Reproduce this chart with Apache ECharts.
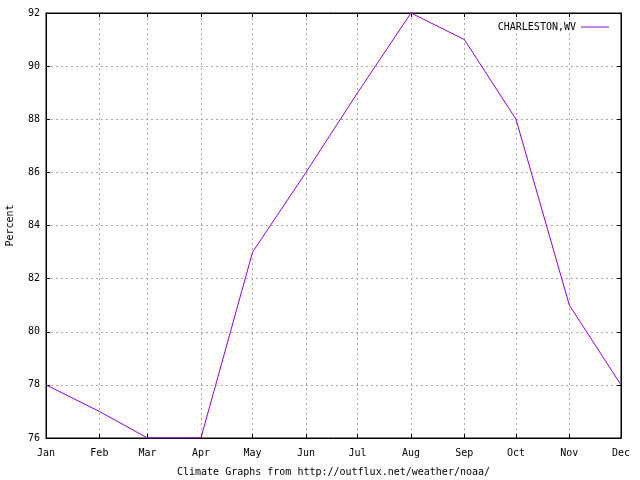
<!DOCTYPE html>
<html><head><meta charset="utf-8">
<script src="https://cdn.jsdelivr.net/npm/echarts@6/dist/echarts.min.js"></script>
<style>html,body{margin:0;padding:0;background:#fff}#c{width:640px;height:480px}</style>
</head><body><div id="c"></div>
<script>
const months = ['Jan','Feb','Mar','Apr','May','Jun','Jul','Aug','Sep','Oct','Nov','Dec'];
const values = [78,77,76,76,83,86,89,92,91,88,81,78];
const seriesName = 'CHARLESTON,WV';
const yTicks = [76,78,80,82,84,86,88,90,92];
const year = 2001;

const FONT = 'DejaVu Sans Mono';
const chart = echarts.init(document.getElementById('c'), null, {renderer:'canvas'});
const data = months.map((m,i)=>[new Date(year,i,1).getTime(), values[i]]);
const xMin = new Date(year,0,1).getTime();
const xMax = new Date(year,11,1).getTime();
const dash = {color:'#a8a8a8', type:[2,3], width:1};
chart.setOption({
  animation:false,
  grid:{left:46,right:19,top:13,bottom:42,show:true,borderColor:'#000',borderWidth:1,containLabel:false,outerBoundsMode:'none'},
  legend:{top:17,right:26,align:'right',itemWidth:28,itemHeight:10,itemGap:5,icon:'path://M0,5L28,5L28,6L0,6Z',
    textStyle:{fontFamily:FONT,fontSize:10,color:'#000'},data:[seriesName]},
  xAxis:[{type:'time',min:xMin,max:xMax,splitNumber:12,
    minInterval:28*86400000,maxInterval:31*86400000,
    name:'Climate Graphs from http://outflux.net/weather/noaa/',nameLocation:'middle',nameGap:29,
    nameTextStyle:{fontFamily:FONT,fontSize:10,color:'#000'},
    axisLine:{show:true,lineStyle:{color:'#000'}},
    axisTick:{show:true,inside:true,length:4,lineStyle:{color:'#000'}},
    axisLabel:{fontFamily:FONT,fontSize:10,color:'#000',margin:10,showMinLabel:true,showMaxLabel:true,
      formatter:function(v){return months[new Date(v).getMonth()];}},
    splitLine:{show:true,lineStyle:dash}},
   {type:'time',position:'top',min:xMin,max:xMax,splitNumber:12,
    minInterval:28*86400000,maxInterval:31*86400000,
    axisLine:{show:true,lineStyle:{color:'#000'}},
    axisTick:{show:true,inside:true,length:4,lineStyle:{color:'#000'}},
    axisLabel:{show:false},splitLine:{show:false}}],
  yAxis:[{type:'value',min:yTicks[0],max:yTicks[yTicks.length-1],interval:2,
    name:'Percent',nameLocation:'middle',nameGap:31,nameRotate:90,
    nameTextStyle:{fontFamily:FONT,fontSize:10,color:'#000'},
    axisLine:{show:true,lineStyle:{color:'#000'}},
    axisTick:{show:true,inside:true,length:4,lineStyle:{color:'#000'}},
    axisLabel:{fontFamily:FONT,fontSize:10,color:'#000',margin:6},
    splitLine:{show:true,lineStyle:dash}},
   {type:'value',position:'right',min:yTicks[0],max:yTicks[yTicks.length-1],interval:2,
    axisLine:{show:true,lineStyle:{color:'#000'}},
    axisTick:{show:true,inside:true,length:4,lineStyle:{color:'#000'}},
    axisLabel:{show:false},splitLine:{show:false}}],
  series:[{name:seriesName,type:'line',data:data,symbol:'none',
    lineStyle:{color:'#9400d3',width:1},itemStyle:{color:'#9400d3'}}]
});
</script></body></html>
